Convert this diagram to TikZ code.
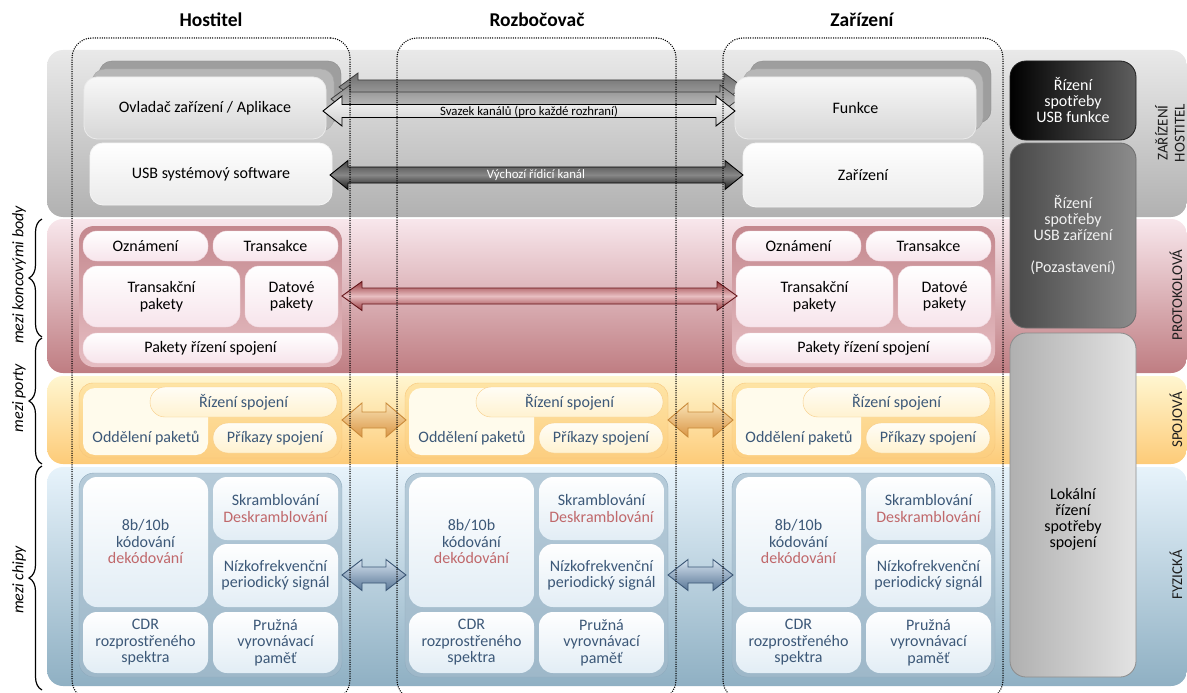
\documentclass[tikz,border=0pt]{standalone}
\usepackage{fontspec}
\setmainfont{Carlito}
\usetikzlibrary{calc,decorations.pathreplacing}
\definecolor{lnk}{HTML}{3C5878}
\definecolor{rd}{HTML}{C0686B}
\newcommand\myfs{\fontsize{16}{16.5}\selectfont}
\newcommand\bx[7]{\node[#6,minimum width={(#4)-(#2)},minimum height={(#5)-(#3)}] (#1) at ({((#2)+(#4))/2},{((#3)+(#5))/2}) {#7};}
\newcommand\barrow[6]{\path[#1] let \p1=(#2),\p2=(#3) in (\x1,\y1) -- ({\x1+#6pt},{\y1+#5pt}) -- ({\x1+#6pt},{\y1+#4pt}) -- ({\x2-#6pt},{\y1+#4pt}) -- ({\x2-#6pt},{\y1+#5pt}) -- (\x2,\y1) -- ({\x2-#6pt},{\y1-#5pt}) -- ({\x2-#6pt},{\y1-#4pt}) -- ({\x1+#6pt},{\y1-#4pt}) -- ({\x1+#6pt},{\y1-#5pt}) -- cycle;}
\begin{document}
\begin{tikzpicture}[x=1pt,y=-1pt,
  box/.style={rectangle,rounded corners=13pt,inner sep=0pt,align=center,font=\myfs},
  band/.style={rounded corners=16pt},
  back3/.style={box,fill={rgb,255:red,158;green,158;blue,158},draw={rgb,255:red,140;green,140;blue,140}},
  back2/.style={box,fill={rgb,255:red,183;green,183;blue,183},draw={rgb,255:red,165;green,165;blue,165}},
  appbox/.style={box,top color={rgb,255:red,248;green,248;blue,248},bottom color={rgb,255:red,214;green,214;blue,214},draw={rgb,255:red,235;green,235;blue,235},line width=0.8pt},
  topbox/.style={box,top color=white,bottom color={rgb,255:red,234;green,234;blue,234},draw={rgb,255:red,245;green,245;blue,245},line width=0.8pt},
  protcont/.style={box,rounded corners=15pt,top color={rgb,255:red,196;green,136;blue,142},bottom color={rgb,255:red,230;green,190;blue,195}},
  protbox/.style={box,rounded corners=14pt,top color=white,bottom color={rgb,255:red,247;green,228;blue,235},draw={rgb,255:red,242;green,218;blue,225}},
  linkcont/.style={box,rounded corners=14pt,top color={rgb,255:red,254;green,228;blue,165},bottom color={rgb,255:red,252;green,206;blue,128},draw={rgb,255:red,247;green,198;blue,122}},
  linkbg/.style={box,rounded corners=12pt,fill={rgb,255:red,255;green,251;blue,236}},
  linkpill/.style={box,rounded corners=15pt,top color={rgb,255:red,255;green,253;blue,246},bottom color={rgb,255:red,255;green,242;blue,208},draw={rgb,255:red,247;green,205;blue,135},text=lnk},
  ltext/.style={inner sep=0pt,font=\myfs,text=lnk},
  physcont/.style={box,rounded corners=15pt,top color={rgb,255:red,182;green,203;blue,217},bottom color={rgb,255:red,158;green,184;blue,201},draw={rgb,255:red,143;green,171;blue,190}},
  physbox/.style={box,rounded corners=14pt,top color=white,bottom color={rgb,255:red,226;green,237;blue,245},text=lnk},
  sidelab/.style={rotate=90,align=center,inner sep=0pt,font=\fontsize{15}{17}\selectfont,text={rgb,255:red,30;green,30;blue,30}},
  bracelab/.style={rotate=90,inner sep=0pt,font=\fontsize{16}{17}\selectfont\itshape},
  brc/.style={decorate,decoration={brace,amplitude=13pt},line width=1.2pt},
  col/.style={rectangle,rounded corners=20pt,draw,dash pattern=on 0pt off 2.3pt,line cap=round,line width=1.5pt,inner sep=0pt},
  title/.style={font=\fontsize{19.5}{20}\selectfont\bfseries,inner sep=0pt},
  arlbl/.style={inner sep=0pt,font=\fontsize{12.8}{13}\selectfont}
]
\useasboundingbox (0,0) rectangle (1187,693);
% layer bands
\path[band,top color={rgb,255:red,233;green,233;blue,233},bottom color={rgb,255:red,177;green,177;blue,177}] (47,50) rectangle (1187,217);
\path[band,top color={rgb,255:red,248;green,231;blue,236},bottom color={rgb,255:red,191;green,125;blue,130}] (47,219) rectangle (1187,373);
\path[band,top color={rgb,255:red,255;green,246;blue,208},bottom color={rgb,255:red,253;green,203;blue,120}] (47,376) rectangle (1187,464);
\path[band,top color={rgb,255:red,231;green,243;blue,251},bottom color={rgb,255:red,143;green,176;blue,195}] (47,467) rectangle (1187,686);

% top layer
\bx{hback3}{99}{61}{341}{123}{back3}{}
\bx{hback2}{92}{69}{334}{131}{back2}{}
\bx{dback3}{750}{61}{991}{123}{back3}{}
\bx{dback2}{743}{69}{983}{131}{back2}{}
\coordinate (b1L) at (339,87); \coordinate (b1R) at (743,87);
\coordinate (b2L) at (331,99); \coordinate (b2R) at (739,99);
\barrow{draw={rgb,255:red,60;green,60;blue,60},line width=0.8pt,top color={rgb,255:red,110;green,110;blue,110},bottom color={rgb,255:red,170;green,170;blue,170}}{b1L}{b1R}{7}{14}{19}
\barrow{draw={rgb,255:red,60;green,60;blue,60},line width=0.8pt,top color={rgb,255:red,140;green,140;blue,140},bottom color={rgb,255:red,200;green,200;blue,200}}{b2L}{b2R}{7}{14}{19}
\bx{happ}{84}{77}{326}{139}{appbox}{Ovladač zařízení / Aplikace}
\bx{hsw}{90}{143}{332}{205}{topbox}{USB systémový software}
\bx{dfun}{735}{77}{976}{139}{appbox}{Funkce}
\bx{ddev}{743}{143}{983}{207}{topbox}{Zařízení}
\coordinate (bunL) at (323,111); \coordinate (bunR) at (735,111);
\barrow{draw=black,line width=0.9pt,top color={rgb,255:red,250;green,250;blue,250},bottom color={rgb,255:red,205;green,205;blue,205}}{bunL}{bunR}{6.5}{15}{19}
\node[arlbl] (bunlbl) at (529,112) {Svazek kanálů (pro každé rozhraní)};
\coordinate (ctlL) at (330,175); \coordinate (ctlR) at (743,175);
\barrow{draw=black,line width=0.9pt,top color={rgb,255:red,70;green,70;blue,70},bottom color={rgb,255:red,25;green,25;blue,25},middle color={rgb,255:red,135;green,135;blue,135}}{ctlL}{ctlR}{8}{14.5}{18}
\node[arlbl,text=white] (ctllbl) at (536,175) {Výchozí řídicí kanál};

% protocol layer
\foreach \s/\p in {0/h,653/d}{
  \bx{\p pcont}{79+\s}{226}{342+\s}{367}{protcont}{}
  \bx{\p ozn}{83+\s}{231}{208+\s}{261}{protbox}{Oznámení}
  \bx{\p tra}{213+\s}{231}{338+\s}{261}{protbox}{Transakce}
  \bx{\p tp}{83+\s}{266}{240+\s}{327}{protbox}{Transakční\\pakety}
  \bx{\p dp}{245+\s}{266}{338+\s}{327}{protbox}{Datové\\pakety}
  \bx{\p prs}{83+\s}{333}{338+\s}{363}{protbox}{Pakety řízení spojení}
}
\coordinate (pL) at (342,296); \coordinate (pR) at (737,296);
\barrow{draw={rgb,255:red,100;green,22;blue,26},line width=0.9pt,top color={rgb,255:red,150;green,55;blue,60},bottom color={rgb,255:red,150;green,55;blue,60},middle color={rgb,255:red,232;green,190;blue,193}}{pL}{pR}{8}{14.5}{20}

% link layer
\foreach \s/\p in {0/h,326/r,653/d}{
  \bx{\p lcont}{79+\s}{383}{342+\s}{458}{linkcont}{}
  \bx{\p lbg}{83+\s}{388}{208+\s}{455}{linkbg}{}
  \bx{\p lriz}{150+\s}{387}{337+\s}{417}{linkpill}{Řízení spojení}
  \bx{\p lpri}{213+\s}{423}{337+\s}{453}{linkpill}{Příkazy spojení}
  \node[ltext] (\p lodd) at (146+\s,438) {Oddělení paketů};
}
\foreach \a/\b in {342/406,668/733}{
  \coordinate (oL) at (\a,420); \coordinate (oR) at (\b,420);
  \barrow{draw={rgb,255:red,201;green,138;blue,58},line width=0.9pt,top color={rgb,255:red,250;green,226;blue,180},bottom color={rgb,255:red,217;green,150;blue,70}}{oL}{oR}{8}{17}{20}
}

% physical layer
\foreach \s/\p in {0/h,326/r,653/d}{
  \bx{\p fcont}{79+\s}{473}{342+\s}{677}{physcont}{}
  \bx{\p fenc}{83+\s}{477}{208+\s}{607}{physbox}{8b/10b\\kódování\\\textcolor{rd}{dekódování}}
  \bx{\p fscr}{213+\s}{477}{338+\s}{540}{physbox}{Skramblování\\\textcolor{rd}{Deskramblování}}
  \bx{\p flf}{213+\s}{544}{338+\s}{607}{physbox}{Nízkofrekvenční\\periodický signál}
  \bx{\p fcdr}{83+\s}{612}{208+\s}{673}{physbox}{CDR\\rozprostřeného\\spektra}
  \bx{\p fbuf}{213+\s}{612}{338+\s}{673}{physbox}{Pružná\\vyrovnávací\\paměť}
}
\foreach \a/\b in {342/406,668/733}{
  \coordinate (fL) at (\a,575); \coordinate (fR) at (\b,575);
  \barrow{draw={rgb,255:red,59;green,86;blue,117},line width=0.9pt,top color={rgb,255:red,215;green,228;blue,240},bottom color={rgb,255:red,88;green,118;blue,150}}{fL}{fR}{8}{15.5}{20}
}

% right column
\bx{pwrfun}{1010}{61}{1136}{140}{box,rounded corners=16pt,left color=black,right color={rgb,255:red,95;green,95;blue,95},draw={rgb,255:red,30;green,30;blue,30},line width=0.8pt,text=white,font=\fontsize{16}{16}\selectfont}{Řízení\\spotřeby\\USB funkce}
\bx{pwrdev}{1010}{143}{1136}{328}{box,rounded corners=16pt,left color={rgb,255:red,72;green,72;blue,72},right color={rgb,255:red,140;green,140;blue,140},draw={rgb,255:red,110;green,110;blue,110},line width=0.8pt,text={rgb,255:red,240;green,240;blue,240},font=\fontsize{16}{16}\selectfont}{Řízení\\spotřeby\\USB zařízení\\[16pt](Pozastavení)}
\bx{pwrlnk}{1010}{333}{1136}{677}{box,rounded corners=16pt,left color={rgb,255:red,176;green,176;blue,176},right color={rgb,255:red,227;green,227;blue,227},draw={rgb,255:red,140;green,140;blue,140},line width=0.8pt}{}
\node[box,font=\fontsize{16}{16}\selectfont] (pwrlnktxt) at (1073,519) {Lokální\\řízení\\spotřeby\\spojení};

% side labels
\node[sidelab] (lzh) at (1170,133) {ZAŘÍZENÍ\\HOSTITEL};
\node[sidelab] (lpr) at (1176,295) {PROTOKOLOVÁ};
\node[sidelab] (lsp) at (1176,420) {SPOJOVÁ};
\node[sidelab] (lfy) at (1176,575) {FYZICKÁ};

% braces
\draw[brc] (42,337) -- (42,219);
\draw[brc] (42,464) -- (42,338);
\draw[brc] (42,690) -- (42,466);
\node[bracelab] (bk) at (19,275) {mezi koncovými body};
\node[bracelab] (bp) at (19,398) {mezi porty};
\node[bracelab] (bc) at (19,580) {mezi chipy};

% dotted columns
\bx{colh}{72}{38}{350}{700}{col}{}
\bx{colr}{397}{38}{676}{700}{col}{}
\bx{cold}{723}{38}{1003}{700}{col}{}
\node[title] (th) at (211,20) {Hostitel};
\node[title] (tr) at (537,20) {Rozbočovač};
\node[title] (td) at (862,20) {Zařízení};
\end{tikzpicture}
\end{document}
